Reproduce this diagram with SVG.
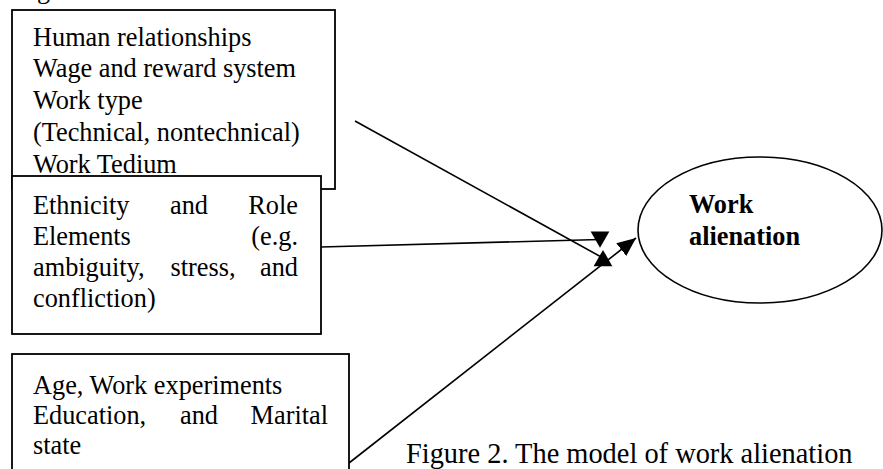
<svg xmlns="http://www.w3.org/2000/svg" width="883" height="469" viewBox="0 0 883 469">
<style>
text{font-family:"Liberation Serif","Times New Roman",serif;font-size:26.3px;fill:#000}
.box{fill:#fff;stroke:#000;stroke-width:1.8}
.con{fill:none;stroke:#000;stroke-width:1.6}
.b{font-weight:bold}
.cap{font-size:28.4px}
</style>
<defs>
<marker id="down" markerUnits="userSpaceOnUse" markerWidth="20" markerHeight="20" viewBox="0 -8 14 16" refX="6.5" refY="0" orient="90"><path d="M0,-7.5 L13,0 L0,7.5 z" fill="#000"/></marker>
<marker id="up" markerUnits="userSpaceOnUse" markerWidth="20" markerHeight="20" viewBox="0 -8 14 16" refX="6.5" refY="0" orient="-90"><path d="M0,-7.5 L13,0 L0,7.5 z" fill="#000"/></marker>
<marker id="head" markerUnits="userSpaceOnUse" markerWidth="20" markerHeight="20" viewBox="0 -8 16 16" refX="15" refY="0" orient="auto"><path d="M0,-6.5 L15,0 L0,6.5 z" fill="#000"/></marker>
</defs>
<rect width="883" height="469" fill="#fff"/>
<text x="37" y="-2">g</text>
<g id="connectors">
<line class="con" x1="355" y1="121" x2="603" y2="258" marker-end="url(#up)"/>
<line class="con" x1="321" y1="247" x2="600" y2="239.5" marker-end="url(#down)"/>
<line class="con" x1="349" y1="463" x2="636" y2="238" marker-end="url(#head)"/>
</g>
<g id="box1">
<rect class="box" x="12" y="10" width="323" height="179"/>
<text x="33" y="45.5">Human relationships</text>
<text x="33" y="77.3">Wage and reward system</text>
<text x="33" y="109">Work type</text>
<text x="33" y="140.8">(Technical, nontechnical)</text>
<text x="33" y="172.6">Work Tedium</text>
</g>
<g id="box2">
<rect class="box" x="12" y="176" width="309" height="158"/>
<text x="33" y="214">Ethnicity</text><text x="170" y="214">and</text><text x="298" y="214" text-anchor="end">Role</text>
<text x="33" y="245">Elements</text><text x="298" y="245" text-anchor="end">(e.g.</text>
<text x="33" y="276">ambiguity,</text><text x="170.5" y="276">stress,</text><text x="298" y="276" text-anchor="end">and</text>
<text x="33" y="307">confliction)</text>
</g>
<g id="box3">
<rect class="box" x="12" y="354" width="337" height="130"/>
<text x="33" y="394">Age, Work experiments</text>
<text x="33" y="424">Education,</text><text x="180" y="424">and</text><text x="328" y="424" text-anchor="end">Marital</text>
<text x="33" y="454">state</text>
</g>
<g id="work-alienation">
<ellipse cx="760" cy="230" rx="122" ry="73" fill="#fff" stroke="#000" stroke-width="1.6"/>
<text class="b" x="689" y="213">Work</text>
<text class="b" x="689" y="245">alienation</text>
</g>
<g id="caption">
<text class="cap" x="406" y="462.5">Figure 2. The model of work alienation</text>
</g>
</svg>
